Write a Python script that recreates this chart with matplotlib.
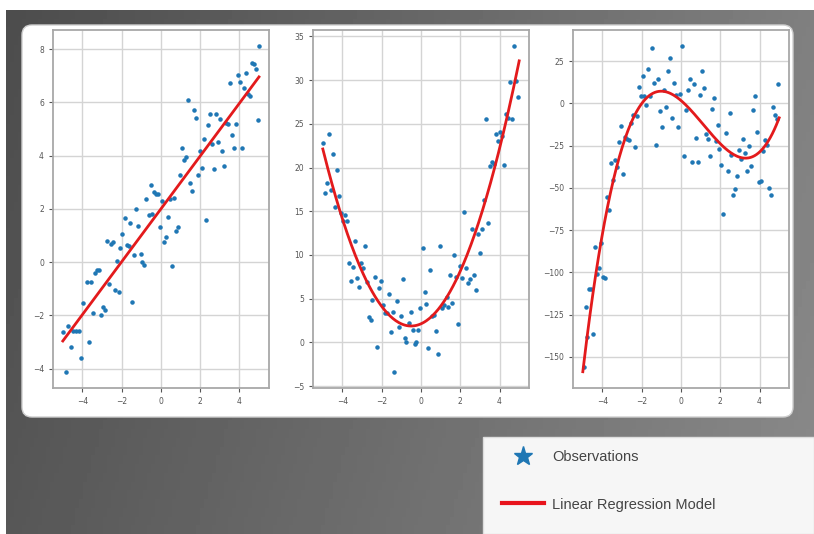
import numpy as np
import matplotlib.pyplot as plt
from matplotlib.patches import FancyBboxPatch, Rectangle
from matplotlib.lines import Line2D

# --- data ---
x_lin = [-4.98, -4.86, -4.76, -4.56, -4.46, -4.34, -4.15, -4.07, -3.97, -3.78,
         -3.66, -3.56, -3.46, -3.36, -3.26, -3.15, -3.05, -2.95, -2.86, -2.76,
         -2.66, -2.56, -2.46, -2.36, -2.26, -2.15, -2.06, -1.96, -1.85, -1.75,
         -1.65, -1.55, -1.45, -1.35, -1.25, -1.15, -1.04, -0.94, -0.84, -0.74,
         -0.63, -0.53, -0.43, -0.33, -0.23, -0.13, -0.03, 0.08, 0.18, 0.28,
         0.38, 0.48, 0.58, 0.68, 0.78, 0.88, 0.99, 1.09, 1.19, 1.30,
         1.38, 1.50, 1.60, 1.69, 1.79, 1.89, 1.99, 2.09, 2.19, 2.29,
         2.39, 2.49, 2.60, 2.70, 2.80, 2.90, 3.00, 3.10, 3.20, 3.31,
         3.41, 3.51, 3.61, 3.71, 3.82, 3.92, 4.02, 4.12, 4.22, 4.32,
         4.42, 4.53, 4.63, 4.73, 4.83, 4.93, 5.01]
y_lin = [-2.62, -4.12, -2.39, -3.20, -2.60, -2.60, -2.60, -3.60, -1.55, -0.73,
         -3.02, -0.73, -1.91, -0.41, -0.31, -0.31, -1.98, -1.70, -1.81, 0.81,
         -0.81, 0.69, 0.76, -1.05, 0.04, -1.11, 0.53, 1.06, 1.66, 0.65,
         0.59, 1.48, -1.49, 0.28, 1.99, 1.35, 0.30, 0.01, -0.11, 2.38,
         1.78, 2.89, 1.80, 2.62, 2.55, 2.55, 1.31, 2.28, 0.74, 0.95,
         1.70, 2.38, -0.13, 2.40, 1.15, 1.31, 3.28, 4.29, 3.82, 3.96,
         6.10, 2.99, 2.68, 5.71, 5.43, 3.29, 4.19, 3.54, 4.62, 1.58,
         5.17, 5.58, 4.44, 3.48, 5.57, 4.52, 5.36, 4.18, 3.62, 5.22,
         5.19, 6.73, 4.77, 4.28, 5.19, 7.03, 6.77, 4.28, 6.53, 7.10,
         6.31, 6.25, 7.47, 7.46, 7.26, 5.34, 8.11]

x_quad = [-4.98, -4.87, -4.77, -4.67, -4.57, -4.46, -4.36, -4.27, -4.16, -4.06,
          -3.96, -3.86, -3.76, -3.66, -3.56, -3.45, -3.35, -3.25, -3.15, -3.07,
          -2.97, -2.87, -2.77, -2.67, -2.57, -2.47, -2.36, -2.26, -2.16, -2.06,
          -1.96, -1.85, -1.75, -1.65, -1.55, -1.45, -1.35, -1.24, -1.14, -1.04,
          -0.94, -0.84, -0.74, -0.63, -0.53, -0.43, -0.33, -0.23, -0.13, -0.03,
          0.08, 0.18, 0.28, 0.38, 0.48, 0.58, 0.68, 0.78, 0.88, 0.99,
          1.09, 1.19, 1.30, 1.40, 1.50, 1.60, 1.67, 1.79, 1.89, 1.99,
          2.09, 2.19, 2.29, 2.39, 2.49, 2.60, 2.70, 2.80, 2.90, 3.00,
          3.10, 3.20, 3.31, 3.41, 3.51, 3.61, 3.71, 3.82, 3.92, 4.02,
          4.12, 4.22, 4.32, 4.42, 4.53, 4.63, 4.73, 4.83, 4.93]
y_quad = [22.77, 17.09, 18.23, 23.80, 17.47, 21.51, 15.52, 19.76, 16.78, 14.80,
          13.88, 14.53, 13.84, 9.04, 7.02, 8.62, 11.59, 7.36, 6.37, 9.08,
          8.54, 10.98, 6.94, 2.90, 2.52, 4.81, 7.44, -0.57, 6.18, 7.06,
          4.27, 3.36, 3.32, 5.57, 1.14, 3.47, -3.36, 4.77, 1.79, 3.01,
          7.28, 0.50, 0.00, 2.25, 3.51, 1.41, -0.19, 0.04, 1.41, 3.89,
          10.83, 5.80, 4.39, -0.61, 8.24, 3.05, 3.13, 1.30, -1.37, 10.98,
          3.89, 4.31, 5.15, 4.04, 7.74, 4.46, 9.99, 7.48, 2.10, 8.73,
          7.36, 14.91, 8.50, 6.79, 7.25, 12.97, 7.74, 5.95, 12.43, 10.18,
          13.00, 16.25, 25.59, 13.62, 20.18, 20.67, 20.44, 23.87, 23.04, 24.03,
          23.57, 20.25, 26.13, 25.63, 29.82, 25.55, 33.87, 29.86, 28.07]

x_cub = [-4.95, -4.85, -4.77, -4.66, -4.56, -4.46, -4.36, -4.26, -4.16, -4.06,
         -3.96, -3.86, -3.76, -3.66, -3.56, -3.46, -3.36, -3.25, -3.15, -3.05,
         -2.95, -2.85, -2.75, -2.65, -2.55, -2.45, -2.35, -2.25, -2.16, -2.06,
         -1.96, -1.86, -1.76, -1.66, -1.56, -1.46, -1.36, -1.26, -1.16, -1.06,
         -0.96, -0.86, -0.76, -0.65, -0.55, -0.45, -0.35, -0.25, -0.15, -0.05,
         0.05, 0.15, 0.25, 0.35, 0.45, 0.55, 0.65, 0.76, 0.86, 0.96,
         1.06, 1.16, 1.26, 1.36, 1.46, 1.56, 1.66, 1.76, 1.86, 1.96,
         2.06, 2.16, 2.27, 2.37, 2.47, 2.57, 2.67, 2.77, 2.87, 2.97,
         3.07, 3.17, 3.27, 3.37, 3.47, 3.57, 3.67, 3.78, 3.88, 3.98,
         4.08, 4.18, 4.28, 4.38, 4.48, 4.58, 4.68, 4.78, 4.88, 4.95]
y_cub = [-156.2, -120.3, -138.1, -110.0, -110.0, -136.6, -84.8, -101.1, -97.2, -82.6,
         -102.8, -103.2, -55.3, -63.4, -35.1, -45.2, -33.8, -37.4, -23.1, -13.6,
         -42.1, -20.0, -20.8, -21.5, -11.4, -6.8, -25.8, -7.4, 9.5, 4.5,
         16.1, 4.5, -1.0, 20.6, 4.5, 33.0, 12.2, -24.4, 14.5, -4.5,
         -14.0, 8.1, -2.1, 19.2, 26.6, -8.9, 11.8, 5.2, -14.2, 5.6,
         33.8, -31.0, -3.9, 8.0, 14.7, -34.9, 11.3, -20.6, -34.7, 4.7,
         19.4, 8.9, -18.4, -21.1, -31.4, -3.1, 3.1, -22.5, -12.6, -27.0,
         -36.5, -65.4, -17.7, -40.3, -5.6, -30.8, -54.3, -50.4, -42.9, -27.7,
         -32.8, -21.1, -29.3, -40.3, -25.2, -36.9, -3.7, 4.1, -16.7, -46.4,
         -45.8, -28.1, -21.5, -24.6, -50.2, -54.3, -2.1, -6.6, -9.5, 11.6]

panels = [(x_lin, y_lin, 1, [-4, -2, 0, 2, 4, 6, 8]),
          (x_quad, y_quad, 2, [-5, 0, 5, 10, 15, 20, 25, 30, 35]),
          (x_cub, y_cub, 3, [-150, -125, -100, -75, -50, -25, 0, 25])]

W, H = 814, 534
fig = plt.figure(figsize=(W / 100, H / 100), dpi=100)
fig.patch.set_facecolor('white')

# background in pixel coordinates
bg = fig.add_axes([0, 0, 1, 1])
bg.set_xlim(0, W)
bg.set_ylim(H, 0)
bg.axis('off')
gx = np.linspace(0, 1, 200)
gy = np.linspace(0, 1, 60)
grad = 0.30 + 0.20 * gx[None, :] + 0.04 * gy[:, None]
bg.imshow(grad, cmap='gray', vmin=0, vmax=1, extent=(6, W, H, 10), aspect='auto')
bg.add_patch(FancyBboxPatch((30, 33), 755, 376, boxstyle='round,pad=8,rounding_size=10',
                            fc='white', ec='#cfcfcf', lw=1))
bg.add_patch(Rectangle((483, 437), W - 483, H - 437, fc='#f6f6f6', ec='#dddddd', lw=1))

lefts = [53, 313, 573]
for (xs, ys, deg, yt), left in zip(panels, lefts):
    ax = fig.add_axes([left / W, 1 - 388 / H, 216 / W, 358 / H])
    ax.scatter(xs, ys, s=5, color='#1f77b4', zorder=3)
    coef = np.polyfit(xs, ys, deg)
    xf = np.linspace(-5, 5, 200)
    ax.plot(xf, np.polyval(coef, xf), color='#e31a1c', lw=2, zorder=4)
    ax.set_xticks([-4, -2, 0, 2, 4])
    ax.set_yticks(yt)
    ax.grid(True, color='#d4d4d4', lw=1)
    ax.set_axisbelow(True)
    ax.tick_params(labelsize=5.5, colors='#555555', length=3, width=0.8)
    for sp in ax.spines.values():
        sp.set_color('#a8a8a8')
        sp.set_linewidth(1.3)

handles = [Line2D([], [], marker='*', ls='none', color='#1f77b4', ms=14),
           Line2D([], [], color='#e8141c', lw=3)]
fig.legend(handles, ['Observations', 'Linear Regression Model'],
           loc='upper left', bbox_to_anchor=(502 / W, 1 - 450 / H),
           frameon=False, borderpad=0, borderaxespad=0, handlelength=2.9,
           handletextpad=0.55, labelspacing=2.3,
           prop={'family': 'Liberation Sans', 'size': 10.5}, labelcolor='#444444')

fig.savefig('out.png', dpi=100)
